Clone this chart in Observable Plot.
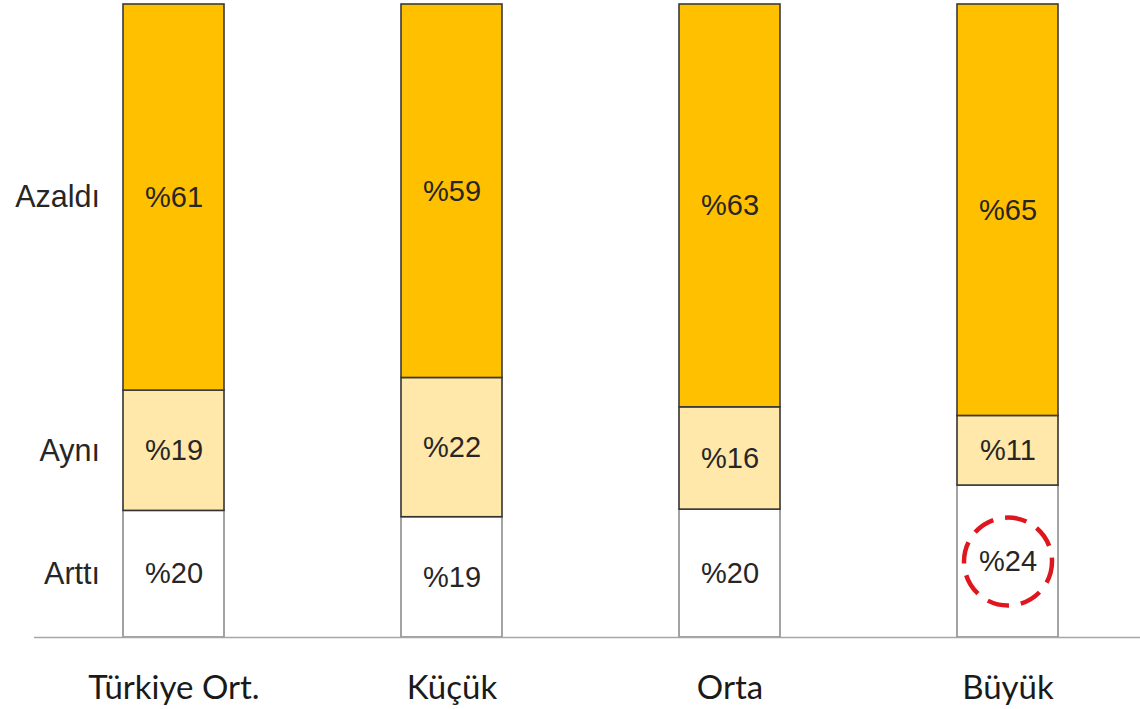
<!DOCTYPE html>
<html>
<head>
<meta charset="utf-8">
<script src="https://cdn.jsdelivr.net/npm/d3@7"></script>
<script src="https://cdn.jsdelivr.net/npm/@observablehq/plot@0.6"></script>
<style>
  html, body { margin: 0; padding: 0; background: #fff; }
</style>
</head>
<body>
<div id="chart"></div>
<script>
const categories = ["Türkiye Ort.", "Küçük", "Orta", "Büyük"];
const responses = ["Arttı", "Aynı", "Azaldı"];
const artti  = [20, 19, 20, 24];
const ayni   = [19, 22, 16, 11];
const azaldi = [61, 59, 63, 65];
const highlight = { category: "Büyük", response: "Arttı" };

const seriesValues = { "Arttı": artti, "Aynı": ayni, "Azaldı": azaldi };
const data = [];
for (const r of responses) {
  categories.forEach((c, i) => data.push({ category: c, response: r, value: seriesValues[r][i] }));
}
const isHighlight = d => d.category === highlight.category && d.response === highlight.response;

const fills = { "Arttı": "#ffffff", "Aynı": "#FFE8AA", "Azaldı": "#FFC000" };
const strokes = { "Arttı": "#8c8c8c", "Aynı": "#333333", "Azaldı": "#3a3a3a" };
const arial = "'Liberation Sans', Arial, Helvetica, sans-serif";

const stackOpts = (extra) => Plot.stackY({ x: "category", y: "value", offset: "normalize", ...extra });

const chart = Plot.plot({
  width: 1140,
  height: 709,
  marginTop: 4,
  marginBottom: 72,
  marginLeft: 34,
  marginRight: 0,
  x: { domain: categories, paddingInner: 0.637, paddingOuter: 0.3076, align: 0.52, label: null },
  y: { axis: null, domain: [0, 1] },
  opacity: { domain: [0, 1], range: [0, 1] },
  marks: [
    Plot.barY(data, stackOpts({
      fill: d => fills[d.response],
      stroke: d => strokes[d.response],
      strokeWidth: 1.6
    })),
    Plot.ruleY([0], { stroke: "#a6a6a6", strokeWidth: 1.5 }),
    Plot.text(data, stackOpts({
      text: d => "%" + d.value,
      fontSize: 29,
      fontFamily: arial,
      fill: "#262626"
    })),
    Plot.text(data.filter(d => d.category === categories[0]), stackOpts({
      text: "response",
      textAnchor: "end",
      dx: -74,
      fontSize: 30.5,
      fontFamily: arial,
      fill: "#262626"
    })),
    Plot.dot(data, stackOpts({
      r: 44,
      stroke: "#E0161E",
      strokeOpacity: d => isHighlight(d) ? 1 : 0,
      strokeWidth: 4.5,
      strokeDasharray: "22,12",
      fill: "none"
    })),
    Plot.axisX({
      tickSize: 0,
      tickPadding: 38,
      fontSize: 33,
      fontFamily: "Lato, 'Open Sans', sans-serif",
      fill: "#1a1a1a",
      label: null
    })
  ]
});
document.getElementById("chart").appendChild(chart);
</script>
</body>
</html>
